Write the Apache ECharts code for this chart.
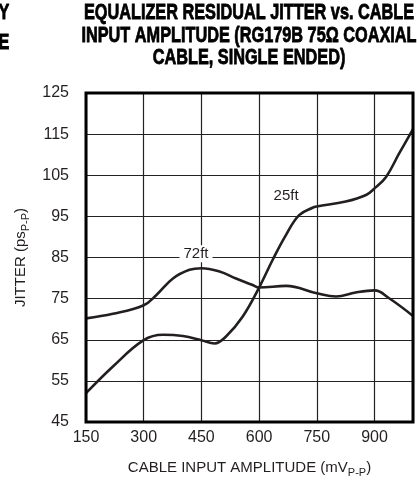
<!DOCTYPE html>
<html><head><meta charset="utf-8">
<script src="https://cdn.jsdelivr.net/npm/echarts@6/dist/echarts.min.js"></script>
<style>html,body{margin:0;padding:0;background:#fff}#c{width:417px;height:487px}</style>
</head><body><div id="c"></div>
<script>
const titleLines = ['EQUALIZER RESIDUAL JITTER vs. CABLE', 'INPUT AMPLITUDE (RG179B 75Ω COAXIAL', 'CABLE, SINGLE ENDED)'];
const neighbourTitleFragments = ['Y', 'E'];
const xTicks = [150, 300, 450, 600, 750, 900];
const yTicks = [45, 55, 65, 75, 85, 95, 105, 115, 125];

const x72 = [150, 220, 300, 333, 376, 419, 450, 497, 540, 583, 600, 670, 750, 800, 851, 900, 938, 1000];
const y72 = [70.2, 71.3, 73.4, 75.9, 79.9, 82.0, 82.4, 81.6, 79.9, 78.3, 77.7, 78.1, 76.3, 75.5, 76.5, 77.0, 75.1, 70.8];

const x25 = [150, 220, 300, 350, 402, 450, 484, 514, 557, 600, 635, 670, 704, 739, 750, 825, 878, 900, 930, 964, 1000];
const y25 = [52.0, 58.5, 64.9, 66.2, 65.9, 64.9, 64.1, 65.8, 70.6, 77.7, 84.4, 90.5, 95.3, 97.1, 97.4, 98.6, 100.2, 101.8, 104.6, 110.3, 116.2];

const seriesNames = ['72ft', '25ft'];
const labelAt = [[436, 85.9], [670, 100]];

const FONT = '"Liberation Sans", Arial, sans-serif';
const INK = '#231f20';

const chart = echarts.init(document.getElementById('c'), null, {renderer: 'canvas'});
function zip(xs, ys) { return xs.map((x, i) => [x, ys[i]]); }
function mkSeries(name, xs, ys, lab, bg) {
  return {
    name: name, type: 'line', data: zip(xs, ys), smooth: 0.4, symbol: 'none',
    lineStyle: {color: INK, width: 2.6}, z: 3,
    markPoint: {
      symbol: 'rect', symbolSize: 0, silent: true,
      data: [{coord: lab, name: name}],
      label: {show: true, formatter: name, color: INK, fontFamily: FONT, fontSize: 15,
        backgroundColor: bg ? '#fff' : 'transparent', padding: [1, 4, 1, 4], position: 'inside'}
    }
  };
}
function titleText(text, x, y) {
  return {type: 'text', x: x, y: y, scaleX: 0.74, z: 10,
    style: {text: text, textAlign: 'center', textVerticalAlign: 'top', font: 'bold 22px ' + FONT,
      fill: '#000', stroke: '#000', lineWidth: 0.8}};
}
chart.setOption({
  animation: false,
  backgroundColor: '#fff',
  graphic: [
    titleText(titleLines[0], 249, 2),
    titleText(titleLines[1], 249, 25),
    titleText(titleLines[2], 249, 47),
    titleText(neighbourTitleFragments[0], 4, 2),
    titleText(neighbourTitleFragments[1], 4, 32)
  ],
  grid: {left: 86, right: 4, top: 93, bottom: 65, show: true, borderColor: '#000', borderWidth: 3, backgroundColor: 'transparent', z: 4},
  xAxis: {
    type: 'value', min: 150, max: 1000, interval: 150,
    axisLine: {show: false}, axisTick: {show: false},
    axisLabel: {color: INK, fontFamily: FONT, fontSize: 16, margin: 8, showMaxLabel: false,
      formatter: v => xTicks.includes(v) ? String(v) : ''},
    splitLine: {show: true, lineStyle: {color: '#222', width: 1.2}},
    name: '{a|CABLE INPUT AMPLITUDE (mV}{s|P-P}{a|)}', nameLocation: 'middle', nameGap: 36,
    nameTextStyle: {rich: {a: {fontFamily: FONT, fontSize: 15, color: INK, lineHeight: 20},
      s: {fontFamily: FONT, fontSize: 11, color: INK, verticalAlign: 'bottom', lineHeight: 14, padding: [5, 0, 0, 0]}}}
  },
  yAxis: {
    type: 'value', min: 45, max: 125, interval: 5,
    axisLine: {show: false}, axisTick: {show: false},
    axisLabel: {color: INK, fontFamily: FONT, fontSize: 16, margin: 17,
      formatter: v => yTicks.includes(v) ? String(v) : ''},
    splitLine: {show: true, lineStyle: {color: ['#222', 'rgba(0,0,0,0)'], width: 1.2}},
    name: '{a|JITTER (ps}{s|P-P}{a|)}', nameLocation: 'middle', nameGap: 55, nameRotate: 90,
    nameTextStyle: {rich: {a: {fontFamily: FONT, fontSize: 15, color: INK, lineHeight: 20},
      s: {fontFamily: FONT, fontSize: 11, color: INK, verticalAlign: 'bottom', lineHeight: 14, padding: [5, 0, 0, 0]}}}
  },
  series: [
    mkSeries(seriesNames[0], x72, y72, labelAt[0], true),
    mkSeries(seriesNames[1], x25, y25, labelAt[1], false)
  ]
});
</script></body></html>
